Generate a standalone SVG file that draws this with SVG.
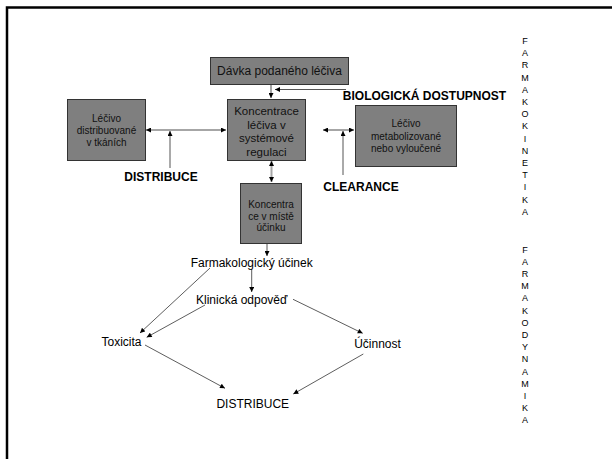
<svg xmlns="http://www.w3.org/2000/svg" width="612" height="459" viewBox="0 0 612 459">
<style>
.box{fill:#7f7f7f;stroke:#333;stroke-width:1}
.bt{font-family:"Liberation Sans",Arial,sans-serif;fill:#111;text-anchor:middle}
.lbl{font-family:"Liberation Sans",Arial,sans-serif;fill:#000;text-anchor:middle;font-size:12px}
.b{font-weight:bold}
.vt{font-family:"Liberation Sans",Arial,sans-serif;fill:#000;text-anchor:middle;font-size:9px}
.gl{stroke:#a6a6a6;stroke-width:2;fill:none}
.dl{stroke:#555;stroke-width:1;fill:none}
.tl{stroke:#333;stroke-width:0.8;fill:none}
</style>
<defs>
<marker id="ah" viewBox="0 0 10 10" refX="10" refY="5" markerWidth="6" markerHeight="5" markerUnits="userSpaceOnUse" orient="auto-start-reverse">
<path d="M0,0 L10,5 L0,10 z" fill="#000"/>
</marker>
</defs>
<rect width="612" height="459" fill="#fff"/>
<path d="M7,459 V7.5 H612" fill="none" stroke="#000" stroke-width="2.5"/>

<g id="connectors">
<line class="gl" x1="271" y1="85" x2="271" y2="98" marker-end="url(#ah)"/>
<line class="dl" x1="346" y1="89.5" x2="275" y2="89.5" marker-end="url(#ah)"/>
<line class="gl" x1="146" y1="130" x2="226" y2="130" marker-start="url(#ah)" marker-end="url(#ah)"/>
<line class="dl" x1="170" y1="168" x2="170" y2="131" marker-end="url(#ah)"/>
<line class="gl" x1="323" y1="130" x2="354" y2="130" marker-start="url(#ah)" marker-end="url(#ah)"/>
<line class="dl" x1="343" y1="175" x2="343" y2="131" marker-end="url(#ah)"/>
<line class="gl" x1="271.5" y1="161" x2="271.5" y2="182" marker-start="url(#ah)" marker-end="url(#ah)"/>
<line class="dl" x1="267" y1="244" x2="267" y2="256" marker-end="url(#ah)"/>
<line class="tl" x1="251.7" y1="269" x2="251.7" y2="292" marker-end="url(#ah)"/>
<line class="tl" x1="210" y1="268" x2="140" y2="333" marker-end="url(#ah)"/>
<line class="tl" x1="205" y1="305" x2="146.7" y2="337.3" marker-end="url(#ah)"/>
<line class="tl" x1="293" y1="299.3" x2="362.7" y2="333.3" marker-end="url(#ah)"/>
<line class="tl" x1="145" y1="345" x2="225" y2="388.3" marker-end="url(#ah)"/>
<line class="tl" x1="363.3" y1="354" x2="293.3" y2="394" marker-end="url(#ah)"/>
</g>

<g id="davka">
<rect class="box" x="210.5" y="57.5" width="138" height="27"/>
<text class="bt" x="279.5" y="75" font-size="12">Dávka podaného léčiva</text>
</g>

<g id="koncentrace">
<rect class="box" x="227.5" y="99.5" width="78" height="61"/>
<text class="bt" font-size="11.5"><tspan x="266.5" y="115">Koncentrace</tspan><tspan x="266.5" y="128.5">léčiva v</tspan><tspan x="266.5" y="142">systémové</tspan><tspan x="266.5" y="155.5">regulaci</tspan></text>
</g>

<g id="tkane">
<rect class="box" x="67.5" y="99.5" width="78" height="61"/>
<text class="bt" font-size="10"><tspan x="106.5" y="121.5">Léčivo</tspan><tspan x="106.5" y="133.5">distribuované</tspan><tspan x="106.5" y="145.5">v tkáních</tspan></text>
</g>

<g id="metabolizovane">
<rect class="box" x="355.5" y="105.5" width="101" height="61"/>
<text class="bt" font-size="10"><tspan x="406" y="127">Léčivo</tspan><tspan x="406" y="139.5">metabolizované</tspan><tspan x="406" y="152">nebo vyloučené</tspan></text>
</g>

<g id="misto">
<rect class="box" x="240.5" y="183.5" width="61" height="60"/>
<text class="bt" font-size="10"><tspan x="271" y="207.5">Koncentra</tspan><tspan x="271" y="219.5">ce v místě</tspan><tspan x="271" y="231">účinku</tspan></text>
</g>

<g id="labels">
<text class="lbl b" x="424.5" y="99.5">BIOLOGICKÁ DOSTUPNOST</text>
<text class="lbl b" x="161" y="181">DISTRIBUCE</text>
<text class="lbl b" x="361" y="191">CLEARANCE</text>
</g>

<g id="farmakologicky"><text class="lbl" x="251.7" y="267">Farmakologický účinek</text></g>
<g id="klinicka"><text class="lbl" x="241.7" y="303.5">Klinická odpověď</text></g>
<g id="toxicita"><text class="lbl" x="121.5" y="346">Toxicita</text></g>
<g id="ucinnost"><text class="lbl" x="377.5" y="348">Účinnost</text></g>
<g id="distribuce"><text class="lbl" x="252.8" y="407.5">DISTRIBUCE</text></g>

<g id="farmakokinetika">
<text class="vt"><tspan x="525" y="44">F</tspan><tspan x="525" y="56.2">A</tspan><tspan x="525" y="68.4">R</tspan><tspan x="525" y="80.6">M</tspan><tspan x="525" y="92.8">A</tspan><tspan x="525" y="105">K</tspan><tspan x="525" y="117.2">O</tspan><tspan x="525" y="129.4">K</tspan><tspan x="525" y="141.6">I</tspan><tspan x="525" y="153.8">N</tspan><tspan x="525" y="166">E</tspan><tspan x="525" y="178.2">T</tspan><tspan x="525" y="190.4">I</tspan><tspan x="525" y="202.6">K</tspan><tspan x="525" y="214.8">A</tspan></text>
</g>
<g id="farmakodynamika">
<text class="vt"><tspan x="525" y="252.5">F</tspan><tspan x="525" y="264.7">A</tspan><tspan x="525" y="276.9">R</tspan><tspan x="525" y="289.1">M</tspan><tspan x="525" y="301.3">A</tspan><tspan x="525" y="313.5">K</tspan><tspan x="525" y="325.7">O</tspan><tspan x="525" y="337.9">D</tspan><tspan x="525" y="350.1">Y</tspan><tspan x="525" y="362.3">N</tspan><tspan x="525" y="374.5">A</tspan><tspan x="525" y="386.7">M</tspan><tspan x="525" y="398.9">I</tspan><tspan x="525" y="411.1">K</tspan><tspan x="525" y="423.3">A</tspan></text>
</g>
</svg>
